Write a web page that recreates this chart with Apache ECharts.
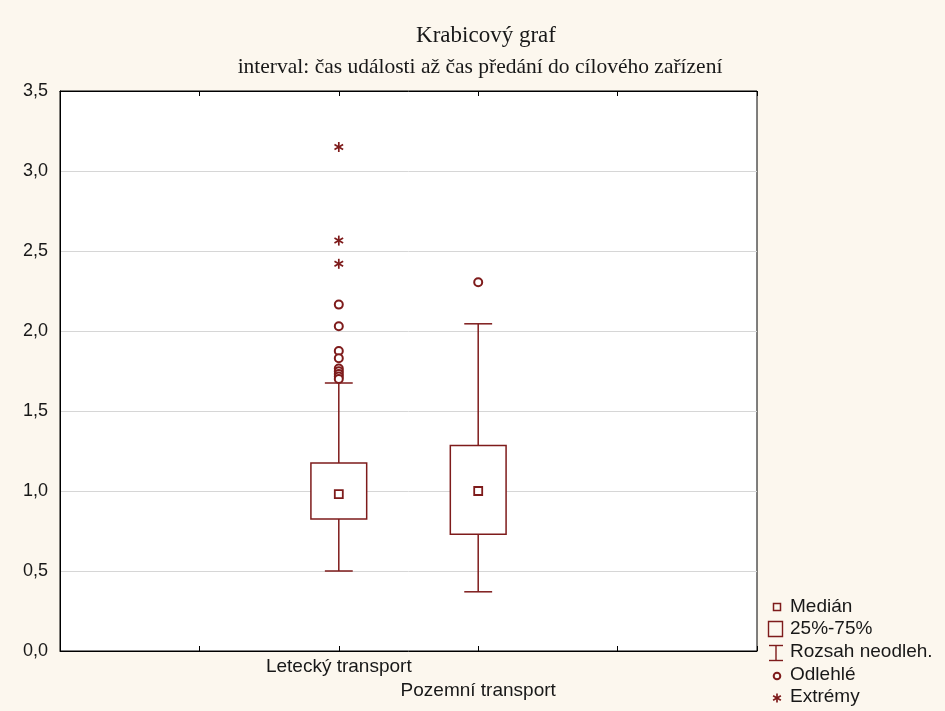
<!DOCTYPE html>
<html>
<head>
<meta charset="utf-8">
<script src="https://cdn.jsdelivr.net/npm/echarts@6/dist/echarts.min.js"></script>
<style>
html,body{margin:0;padding:0;background:#fcf7ee;}
#c{width:945px;height:711px;}
</style>
</head>
<body>
<div id="c"></div>
<script>
// ---- data ----
const categories = ['Letecký transport', 'Pozemní transport'];
const axisSlots = ['', '', 'Letecký transport', 'Pozemní transport', '', ''];
const whiskerLow = [0.50, 0.37];
const quartile1 = [0.825, 0.73];
const medians = [0.98, 1.00];
const quartile3 = [1.175, 1.285];
const whiskerHigh = [1.675, 2.045];
const outliersLetecky = [2.165, 2.03, 1.875, 1.83, 1.765, 1.748, 1.732, 1.716, 1.70];
const outliersPozemni = [2.305];
const extremesLetecky = [3.15, 2.565, 2.42];
const yTickLabels = ['0,0', '0,5', '1,0', '1,5', '2,0', '2,5', '3,0', '3,5'];
const titleText = 'Krabicový graf';
const subtitleText = 'interval: čas události až čas předání do cílového zařízení';
const legendLabels = ['Medián', '25%-75%', 'Rozsah neodleh.', 'Odlehlé', 'Extrémy'];

// ---- styles ----
const RED = '#7e1b1b';
const SANS = '"Liberation Sans", Arial, sans-serif';
const SERIF = '"Liberation Serif", "Times New Roman", serif';
const TXT = '#181818';

const boxData = categories.map((c, i) => [c, quartile1[i], quartile3[i]]);
const whiskerData = categories.map((c, i) => [c, whiskerLow[i], quartile1[i], quartile3[i], whiskerHigh[i]]);
const medianData = categories.map((c, i) => [c, medians[i]]);
const outlierData = outliersLetecky.map(v => [categories[0], v]).concat(outliersPozemni.map(v => [categories[1], v]));
const extremeData = extremesLetecky.map(v => [categories[0], v]);

function renderBox(params, api) {
  const x = api.value(0);
  const lo = api.coord([x, api.value(1)]);
  const hi = api.coord([x, api.value(2)]);
  const w = api.size([1, 0])[0] * 0.4;
  return {
    type: 'rect',
    shape: { x: lo[0] - w / 2, y: hi[1], width: w, height: lo[1] - hi[1] },
    style: { fill: '#ffffff', stroke: RED, lineWidth: 1.5 }
  };
}

function renderWhisker(params, api) {
  const x = api.value(0);
  const pMin = api.coord([x, api.value(1)]);
  const pQ1 = api.coord([x, api.value(2)]);
  const pQ3 = api.coord([x, api.value(3)]);
  const pMax = api.coord([x, api.value(4)]);
  const cw = api.size([1, 0])[0] * 0.1;
  const st = { stroke: RED, lineWidth: 1.5 };
  return {
    type: 'group',
    children: [
      { type: 'line', shape: { x1: pMin[0], y1: pMin[1], x2: pQ1[0], y2: pQ1[1] }, style: st },
      { type: 'line', shape: { x1: pQ3[0], y1: pQ3[1], x2: pMax[0], y2: pMax[1] }, style: st },
      { type: 'line', shape: { x1: pMin[0] - cw, y1: pMin[1], x2: pMin[0] + cw, y2: pMin[1] }, style: st },
      { type: 'line', shape: { x1: pMax[0] - cw, y1: pMax[1], x2: pMax[0] + cw, y2: pMax[1] }, style: st }
    ]
  };
}

function asteriskLines(cx, cy, r, lw) {
  const angles = [90, 30, 150];
  return angles.map(a => {
    const rad = a * Math.PI / 180;
    const dx = r * Math.cos(rad), dy = r * Math.sin(rad);
    return { type: 'line', shape: { x1: cx - dx, y1: cy - dy, x2: cx + dx, y2: cy + dy }, style: { stroke: RED, lineWidth: lw } };
  });
}

function renderExtreme(params, api) {
  const p = api.coord([api.value(0), api.value(1)]);
  return { type: 'group', children: asteriskLines(p[0], p[1], 5, 1.7) };
}

const legendRowsY = [606.5, 629, 651.5, 675, 697];
const legendGraphics = [
  { type: 'rect', shape: { x: 773.5, y: 603.5, width: 7, height: 7 }, style: { fill: 'none', stroke: RED, lineWidth: 1.5 } },
  { type: 'rect', shape: { x: 768.5, y: 621.5, width: 14, height: 15 }, style: { fill: 'none', stroke: RED, lineWidth: 1.4 } },
  { type: 'line', shape: { x1: 769, y1: 645.5, x2: 783, y2: 645.5 }, style: { stroke: RED, lineWidth: 1.4 } },
  { type: 'line', shape: { x1: 776, y1: 645.5, x2: 776, y2: 660.5 }, style: { stroke: RED, lineWidth: 1.4 } },
  { type: 'line', shape: { x1: 769, y1: 660.5, x2: 783, y2: 660.5 }, style: { stroke: RED, lineWidth: 1.4 } },
  { type: 'circle', shape: { cx: 777, cy: 676, r: 3.3 }, style: { fill: 'none', stroke: RED, lineWidth: 2 } }
].concat(asteriskLines(777, 698, 4.5, 1.7)).concat(
  legendLabels.map((t, i) => ({
    type: 'text', x: 790, y: legendRowsY[i],
    style: { text: t, fontSize: 19, fontFamily: SANS, fill: TXT, textVerticalAlign: 'middle', verticalAlign: 'middle' }
  }))
);

const chart = echarts.init(document.getElementById('c'), null, { renderer: 'canvas' });
chart.setOption({
  backgroundColor: '#fcf7ee',
  animation: false,
  title: [
    { text: titleText, left: 486, top: 24, textAlign: 'center', padding: 0,
      textStyle: { fontFamily: SERIF, fontSize: 23, fontWeight: 'normal', color: TXT } },
    { text: subtitleText, left: 480, top: 56, textAlign: 'center', padding: 0,
      textStyle: { fontFamily: SERIF, fontSize: 21.5, fontWeight: 'normal', color: TXT } }
  ],
  grid: { left: 60, right: 188, top: 91, bottom: 60, show: true, backgroundColor: '#ffffff', borderColor: '#000', borderWidth: 1 },
  xAxis: [
    { type: 'category', data: axisSlots, boundaryGap: false, position: 'bottom',
      axisLine: { lineStyle: { color: '#000', width: 1 } },
      axisTick: { inside: true, length: 5, interval: 0, lineStyle: { color: '#000' } },
      axisLabel: { interval: 0, hideOverlap: false, margin: 4, fontSize: 19, lineHeight: 24, fontFamily: SANS, color: TXT,
        formatter: (v, i) => (i === 3 ? '\n' + v : v) },
      splitLine: { show: false } },
    { type: 'category', data: axisSlots, boundaryGap: false, position: 'top',
      axisLine: { lineStyle: { color: '#000', width: 1 } },
      axisTick: { inside: true, length: 5, interval: 0, lineStyle: { color: '#000' } },
      axisLabel: { show: false }, splitLine: { show: false } }
  ],
  yAxis: {
    type: 'value', min: 0, max: 3.5, interval: 0.5,
    axisLine: { show: true, lineStyle: { color: '#000' } },
    axisTick: { show: false },
    axisLabel: { margin: 12, fontSize: 18, fontFamily: SANS, color: TXT,
      formatter: v => yTickLabels[Math.round(v / 0.5)] },
    splitLine: { show: true, lineStyle: { color: '#d6d6d6', width: 1 } }
  },
  series: [
    { name: 'Rozsah neodleh.', type: 'custom', renderItem: renderWhisker, data: whiskerData,
      encode: { x: 0, y: [1, 2, 3, 4] }, z: 2 },
    { name: '25%-75%', type: 'custom', renderItem: renderBox, data: boxData,
      encode: { x: 0, y: [1, 2] }, z: 3 },
    { name: 'Medián', type: 'scatter', data: medianData, symbol: 'rect', symbolSize: 8,
      itemStyle: { color: '#ffffff', borderColor: RED, borderWidth: 1.8, opacity: 1 }, z: 4 },
    { name: 'Odlehlé', type: 'scatter', data: outlierData, symbol: 'circle', symbolSize: 8,
      itemStyle: { color: '#ffffff', borderColor: RED, borderWidth: 2, opacity: 1 }, z: 4 },
    { name: 'Extrémy', type: 'custom', renderItem: renderExtreme, data: extremeData,
      encode: { x: 0, y: 1 }, z: 4 }
  ],
  graphic: legendGraphics
});
</script>
</body>
</html>
